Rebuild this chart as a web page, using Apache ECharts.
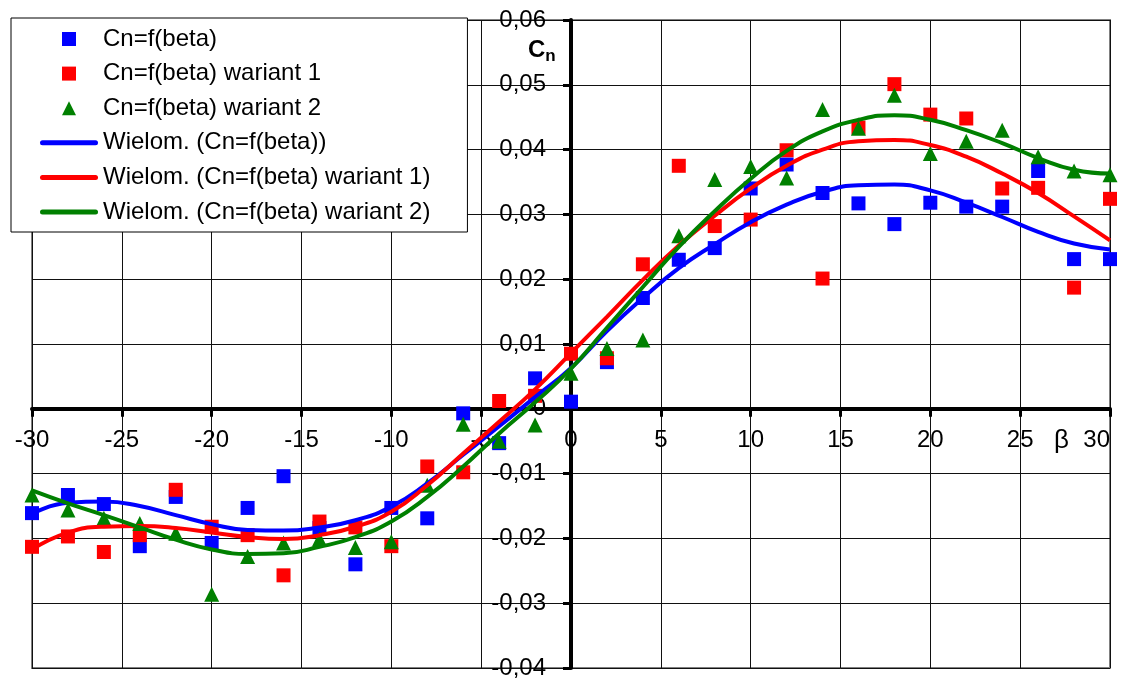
<!DOCTYPE html>
<html>
<head>
<meta charset="utf-8">
<script src="https://cdn.jsdelivr.net/npm/echarts@6/dist/echarts.min.js"></script>
<style>
html,body{margin:0;padding:0;background:#fff;}
#chart{width:1127px;height:682px;}
</style>
</head>
<body>
<div id="chart"></div>
<script>
// Angle beta (deg)
const beta = [-30,-28,-26,-24,-22,-20,-18,-16,-14,-12,-10,-8,-6,-4,-2,0,2,4,6,8,10,12,14,16,18,20,22,24,26,28,30];

// Measured points
const cnBase = [-0.0161,-0.0133,-0.0147,-0.0212,-0.0136,-0.0207,-0.0153,-0.0104,-0.0184,-0.0240,-0.0153,-0.0169,-0.0007,-0.0053,0.0047,0.0011,0.0072,0.0171,0.0230,0.0248,0.0340,0.0377,0.0333,0.0317,0.0285,0.0318,0.0312,0.0312,0.0367,0.0231,0.0231];
const cnVar1 = [-0.0213,-0.0197,-0.0221,-0.0195,-0.0125,-0.0182,-0.0195,-0.0257,-0.0174,-0.0183,-0.0212,-0.0089,-0.0098,0.0012,0.0020,0.0085,0.0078,0.0223,0.0375,0.0282,0.0292,0.0399,0.0201,0.0434,0.0501,0.0454,0.0448,0.0340,0.0341,0.0187,0.0324];
const cnVar2 = [-0.0133,-0.0156,-0.0169,-0.0177,-0.0192,-0.0286,-0.0228,-0.0207,-0.0201,-0.0214,-0.0205,-0.0118,-0.0024,-0.0050,-0.0025,0.0055,0.0093,0.0106,0.0267,0.0354,0.0374,0.0356,0.0462,0.0433,0.0484,0.0394,0.0413,0.0430,0.0389,0.0367,0.0361];

// Polynomial trendlines
const trendBase = [-0.0162,-0.0145,-0.0143,-0.0150,-0.0164,-0.0178,-0.0187,-0.0188,-0.0183,-0.0172,-0.0151,-0.0115,-0.0071,-0.0027,0.0018,0.0063,0.0120,0.0171,0.0217,0.0254,0.0288,0.0315,0.0335,0.0345,0.0346,0.0337,0.0318,0.0296,0.0273,0.0255,0.0246];
const trendVar1 = [-0.0217,-0.0191,-0.0182,-0.0181,-0.0184,-0.0191,-0.0198,-0.0201,-0.0195,-0.0182,-0.0159,-0.0118,-0.0069,-0.0020,0.0030,0.0086,0.0142,0.0199,0.0252,0.0298,0.0340,0.0375,0.0400,0.0413,0.0415,0.0407,0.0389,0.0363,0.0333,0.0297,0.0260];
const trendVar2 = [-0.0126,-0.0146,-0.0164,-0.0183,-0.0202,-0.0217,-0.0224,-0.0223,-0.0213,-0.0198,-0.0174,-0.0136,-0.0089,-0.0038,0.0010,0.0062,0.0125,0.0188,0.0250,0.0305,0.0355,0.0398,0.0428,0.0446,0.0453,0.0446,0.0430,0.0410,0.0387,0.0369,0.0363];

const names = ['Cn=f(beta)','Cn=f(beta) wariant 1','Cn=f(beta) wariant 2',
  'Wielom. (Cn=f(beta))','Wielom. (Cn=f(beta) wariant 1)','Wielom. (Cn=f(beta) wariant 2)'];
const colors = ['#0000FF','#FF0000','#008000'];

const pairs = arr => beta.map((b,i) => [b, arr[i]]);
const FONT = 'Liberation Sans, Arial, sans-serif';

const W = 1127, H = 682;
const G = {left: 32, right: 17, top: 20, bottom: 14};

const chart = echarts.init(document.getElementById('chart'), null, {renderer:'canvas', width: W, height: H});

const fmtY = v => Math.abs(v) < 1e-9 ? '0' : v.toFixed(2).replace('.', ',');

const SQ = 'path://M0,0L10,0L10,10L0,10Z';
const TRI = 'path://M5,0L10,10L0,10Z';
const LN = 'path://M2.5,0L55.5,0A2.5,2.5,0,0,1,55.5,5L2.5,5A2.5,2.5,0,0,1,2.5,0Z';

chart.setOption({
  animation: false,
  backgroundColor: '#fff',
  grid: {left: G.left, right: G.right, top: G.top, bottom: G.bottom, show: true, borderColor: '#808080', borderWidth: 2, containLabel: false, outerBoundsMode: 'none'},
  xAxis: {
    type: 'value', min: -30, max: 30, interval: 5,
    axisLine: {onZero: false, lineStyle: {color: '#000', width: 4}},
    axisTick: {show: true, length: 8, lineStyle: {color: '#000', width: 3}},
    axisLabel: {margin: 20, fontSize: 24, color: '#000', fontFamily: FONT, alignMaxLabel: 'right'},
    splitLine: {show: true, lineStyle: {color: '#111', width: 1}}
  },
  yAxis: {
    type: 'value', min: -0.04, max: 0.06, interval: 0.01,
    axisLine: {onZero: false, lineStyle: {color: '#000', width: 4}},
    axisTick: {show: true, length: 8, lineStyle: {color: '#000', width: 3}},
    axisLabel: {margin: 25, fontSize: 24, color: '#000', fontFamily: FONT, formatter: fmtY},
    splitLine: {show: true, lineStyle: {color: '#111', width: 1}}
  },
  legend: {
    orient: 'vertical', left: 11, top: 18,
    padding: [9, 37, 8, 29],
    itemGap: 10.6,
    itemWidth: 58, itemHeight: 14,
    backgroundColor: '#fff', borderColor: '#000', borderWidth: 1,
    textStyle: {fontSize: 24, color: '#000', fontFamily: FONT},
    data: [
      {name: names[0], icon: SQ},
      {name: names[1], icon: SQ},
      {name: names[2], icon: TRI},
      {name: names[3], icon: LN},
      {name: names[4], icon: LN},
      {name: names[5], icon: LN}
    ]
  },
  graphic: [
    {type: 'text', left: 528, top: 38, z: 100,
      style: {text: '{c|C}{n|n}', rich: {
        c: {fontSize: 24, fontWeight: 'bold', fontFamily: FONT, fill: '#000'},
        n: {fontSize: 17, fontWeight: 'bold', fontFamily: FONT, fill: '#000', padding: [12,0,0,0]}
      }}},
    {type: 'text', left: 1054, top: 428, z: 100,
      style: {text: 'β', fontSize: 26, fontFamily: FONT, fill: '#000'}}
  ],
  series: [
    {name: names[0], type: 'scatter', symbol: 'rect', symbolSize: 14, itemStyle: {color: colors[0], opacity: 1}, data: pairs(cnBase), z: 3},
    {name: names[1], type: 'scatter', symbol: 'rect', symbolSize: 14, itemStyle: {color: colors[1], opacity: 1}, data: pairs(cnVar1), z: 3},
    {name: names[2], type: 'scatter', symbol: 'triangle', symbolSize: 15, itemStyle: {color: colors[2], opacity: 1}, data: pairs(cnVar2), z: 3},
    {name: names[3], type: 'line', smooth: 0.5, showSymbol: false, symbol: 'none', lineStyle: {color: colors[0], width: 4}, itemStyle: {color: colors[0]}, data: pairs(trendBase), z: 4},
    {name: names[4], type: 'line', smooth: 0.5, showSymbol: false, symbol: 'none', lineStyle: {color: colors[1], width: 4}, itemStyle: {color: colors[1]}, data: pairs(trendVar1), z: 4},
    {name: names[5], type: 'line', smooth: 0.5, showSymbol: false, symbol: 'none', lineStyle: {color: colors[2], width: 4}, itemStyle: {color: colors[2]}, data: pairs(trendVar2), z: 4}
  ]
});

// Move both axes (line, ticks, labels) to cross at zero, using the library's scales
const px0 = chart.convertToPixel({xAxisIndex: 0}, 0);
const py0 = chart.convertToPixel({yAxisIndex: 0}, 0);
chart.setOption({
  xAxis: {offset: -((H - G.bottom) - py0)},
  yAxis: {offset: -(px0 - G.left)}
});
</script>
</body>
</html>
